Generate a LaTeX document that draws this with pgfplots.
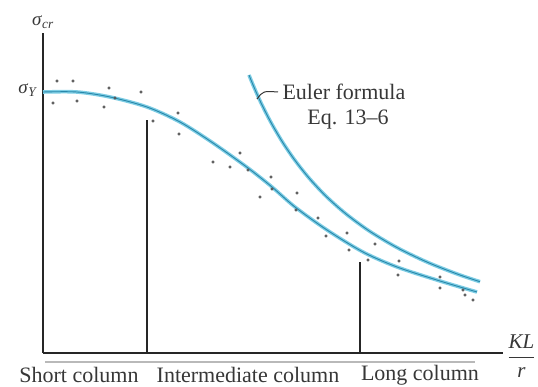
\documentclass[border=0pt]{standalone}
\usepackage{fontspec}
\setmainfont{Liberation Serif}
\usepackage{pgfplots}
\pgfplotsset{compat=1.18}
\definecolor{curveout}{RGB}{125,205,228}
\definecolor{curvein}{RGB}{40,135,170}
\definecolor{txt}{RGB}{55,55,55}
\begin{document}
\begin{tikzpicture}
\useasboundingbox (-43pt,-34pt) rectangle (495pt,353pt);
\begin{axis}[at={(0pt,0pt)}, anchor=south west,
  width=460pt, height=320pt, scale only axis,
  xmin=0, xmax=460, ymin=0, ymax=320,
  axis lines=left, axis line style={-, line width=1.3pt, black!85},
  xtick=\empty, ytick=\empty, clip=false]
% fitted curve (test data)
\addplot[curveout, line width=3.6pt, smooth] coordinates {
(0,261)(34,261)(67,256)(104,246)(137,231)(170,210)(205,185)(229,166)(252,146)(284,123)(320,101)(354,86)(397,72)(434,61)};
\addplot[curvein, line width=0.9pt, smooth] coordinates {
(0,261)(34,261)(67,256)(104,246)(137,231)(170,210)(205,185)(229,166)(252,146)(284,123)(320,101)(354,86)(397,72)(434,61)};
% Euler curve
\addplot[curveout, line width=3.6pt, smooth] coordinates {
(206,278.0)(208,273.0)(212,263.5)(217,252.3)(223,240.0)(230,226.9)(240,210.1)(252,192.6)(266,175.0)(283,156.8)(303,139.1)(327,121.5)(355,104.9)(385,90.5)(415,78.7)(437,71.3)};
\addplot[curvein, line width=0.9pt, smooth] coordinates {
(206,278.0)(208,273.0)(212,263.5)(217,252.3)(223,240.0)(230,226.9)(240,210.1)(252,192.6)(266,175.0)(283,156.8)(303,139.1)(327,121.5)(355,104.9)(385,90.5)(415,78.7)(437,71.3)};
% test points
\addplot[only marks, mark=*, mark size=1.4pt, color=black!65] coordinates {
(14,272)(30,272)(10,250)(34,252)(66,265)(61,246)(72,255)(98,261)(110,232)(135,240)(136,219)
(170,191)(187,186)(197,200)(205,183)(228,176)(229,164)(217,156)(254,160)(253,143)(275,135)
(283,117)(304,120)(306,103)(332,109)(325,93)(356,92)(355,78)(397,76)(397,65)(420,63)(422,58)(430,53)};
% region dividers
\addplot[black!85, line width=1.2pt] coordinates {(104,0)(104,233)};
\addplot[black!85, line width=1.2pt] coordinates {(317,0)(317,91)};
\draw[gray!55, line width=1.2pt] (axis cs:2,-9) -- (axis cs:432,-9);
% labels
\node[txt, font=\fontsize{19}{22}\selectfont] at (axis cs:0,331) {\textit{σ}\textsubscript{\textit{cr}}};
\node[txt, anchor=east, font=\fontsize{19}{22}\selectfont] at (axis cs:-2,263) {\textit{σ}\textsubscript{\textit{Y}}};
\node[txt, anchor=west, font=\fontsize{21}{24}\selectfont] at (axis cs:461,-3) {$\displaystyle\frac{\textit{KL}}{\textit{r}}$};
\node[txt, font=\fontsize{22}{26}\selectfont] at (axis cs:36,-22) {Short column};
\node[txt, font=\fontsize{22}{26}\selectfont] at (axis cs:205,-22) {Intermediate column};
\node[txt, font=\fontsize{22}{26}\selectfont] at (axis cs:377,-22) {Long column};
\draw[txt, line width=1pt] (axis cs:214,254) .. controls (axis cs:220,262) .. (axis cs:235,261);
\node[txt, anchor=west, font=\fontsize{22}{26}\selectfont] at (axis cs:236,261) {Euler formula};
\node[txt, font=\fontsize{22}{26}\selectfont] at (axis cs:305,233) {Eq. 13–6};
\end{axis}
\end{tikzpicture}
\end{document}
